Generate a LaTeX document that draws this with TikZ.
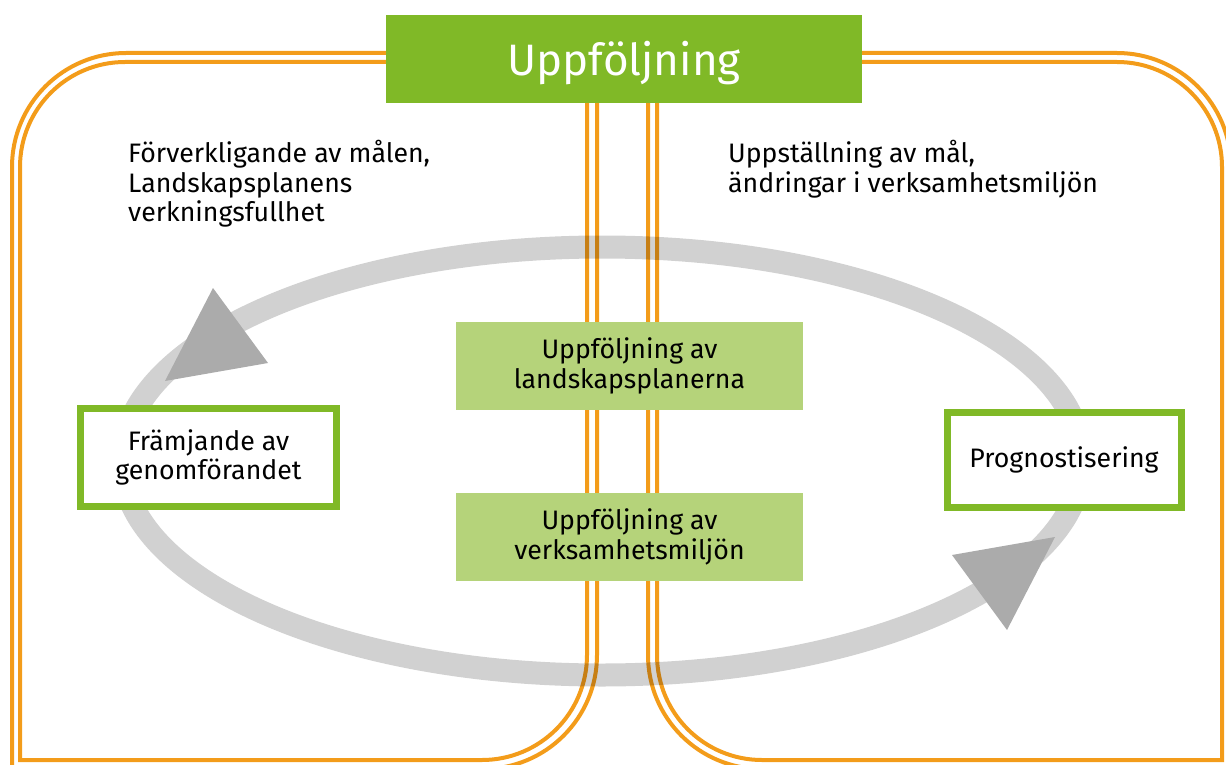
\documentclass[tikz,border=0pt]{standalone}
\usepackage{fontspec}
\setmainfont{Fira Sans}
\definecolor{orng}{HTML}{F39C1A}
\definecolor{grn}{HTML}{80B927}
\definecolor{lgrn}{HTML}{B5D37A}
\definecolor{arrgray}{HTML}{ABABAB}
\begin{document}
\begin{tikzpicture}[x=1pt,y=1pt,
  oline/.style={draw=orng,line width=4pt},
  txt/.style={font=\fontsize{26.7}{29.5}\selectfont,inner sep=0pt,align=left,anchor=north west},
  lgbox/.style={fill=lgrn,draw=none,minimum width=347pt,minimum height=88pt,inner sep=0pt,align=center,font=\fontsize{26.7}{29.5}\selectfont},
  wbox/.style={fill=white,draw=grn,line width=7pt,inner sep=0pt,align=center,font=\fontsize{26.7}{29.5}\selectfont},
  tri/.style={fill=arrgray,draw=none}]
\useasboundingbox (0,0) rectangle (1226,-765);
\begin{scope}
\clip (0,0) rectangle (1226,-765);
% left shape
\draw[oline] (386,-62) -- (125,-62) arc[start angle=90,end angle=180,radius=105] -- (20,-760) -- (482,-760) arc[start angle=270,end angle=360,radius=105] -- (587,-90);
\draw[oline] (386,-53) -- (126,-53) arc[start angle=90,end angle=180,radius=114] -- (12,-800);
\draw[oline] (597,-90) -- (597,-655) arc[start angle=0,end angle=-90,radius=114] -- (0,-769);
% right shape
\draw[oline] (862,-62) -- (1117,-62) arc[start angle=90,end angle=0,radius=105] -- (1222,-760) -- (762,-760) arc[start angle=270,end angle=180,radius=105] -- (657,-90);
\draw[oline] (862,-53) -- (1117,-53) arc[start angle=90,end angle=0,radius=114] -- (1231,-800);
\draw[oline] (648,-90) -- (648,-655) arc[start angle=180,end angle=270,radius=114] -- (1300,-769);
% cycle band
\draw[line width=23pt,draw=black,draw opacity=0.18] (602,-461) ellipse[x radius=480,y radius=214];
\end{scope}
% arrowheads
\fill[tri] (213,-288) -- (268,-363) -- (165,-381) -- cycle;
\fill[tri] (952,-555) -- (1055,-537) -- (1007,-630) -- cycle;
% boxes
\node[fill=grn,minimum width=476pt,minimum height=88pt,inner sep=0pt] (top) at (624,-59) {};
\node[text=white,font=\fontsize{44}{50}\selectfont,inner sep=0pt,anchor=base] (toptxt) at (624,-76) {Uppföljning};
\node[lgbox] (plan) at (629.5,-366) {Uppföljning av\\landskapsplanerna};
\node[lgbox] (env) at (629.5,-537) {Uppföljning av\\verksamhetsmiljön};
\node[wbox,minimum width=256pt,minimum height=98pt] (prom) at (208.5,-457.5) {Främjande av\\genomförandet};
\node[wbox,minimum width=234pt,minimum height=95pt] (prog) at (1064,-459.5) {Prognostisering};
% texts
\node[txt] (ltxt) at (128,-140) {Förverkligande av målen,\\Landskapsplanens\\verkningsfullhet};
\node[txt] (rtxt) at (728,-140) {Uppställning av mål,\\ändringar i verksamhetsmiljön};
\end{tikzpicture}
\end{document}
